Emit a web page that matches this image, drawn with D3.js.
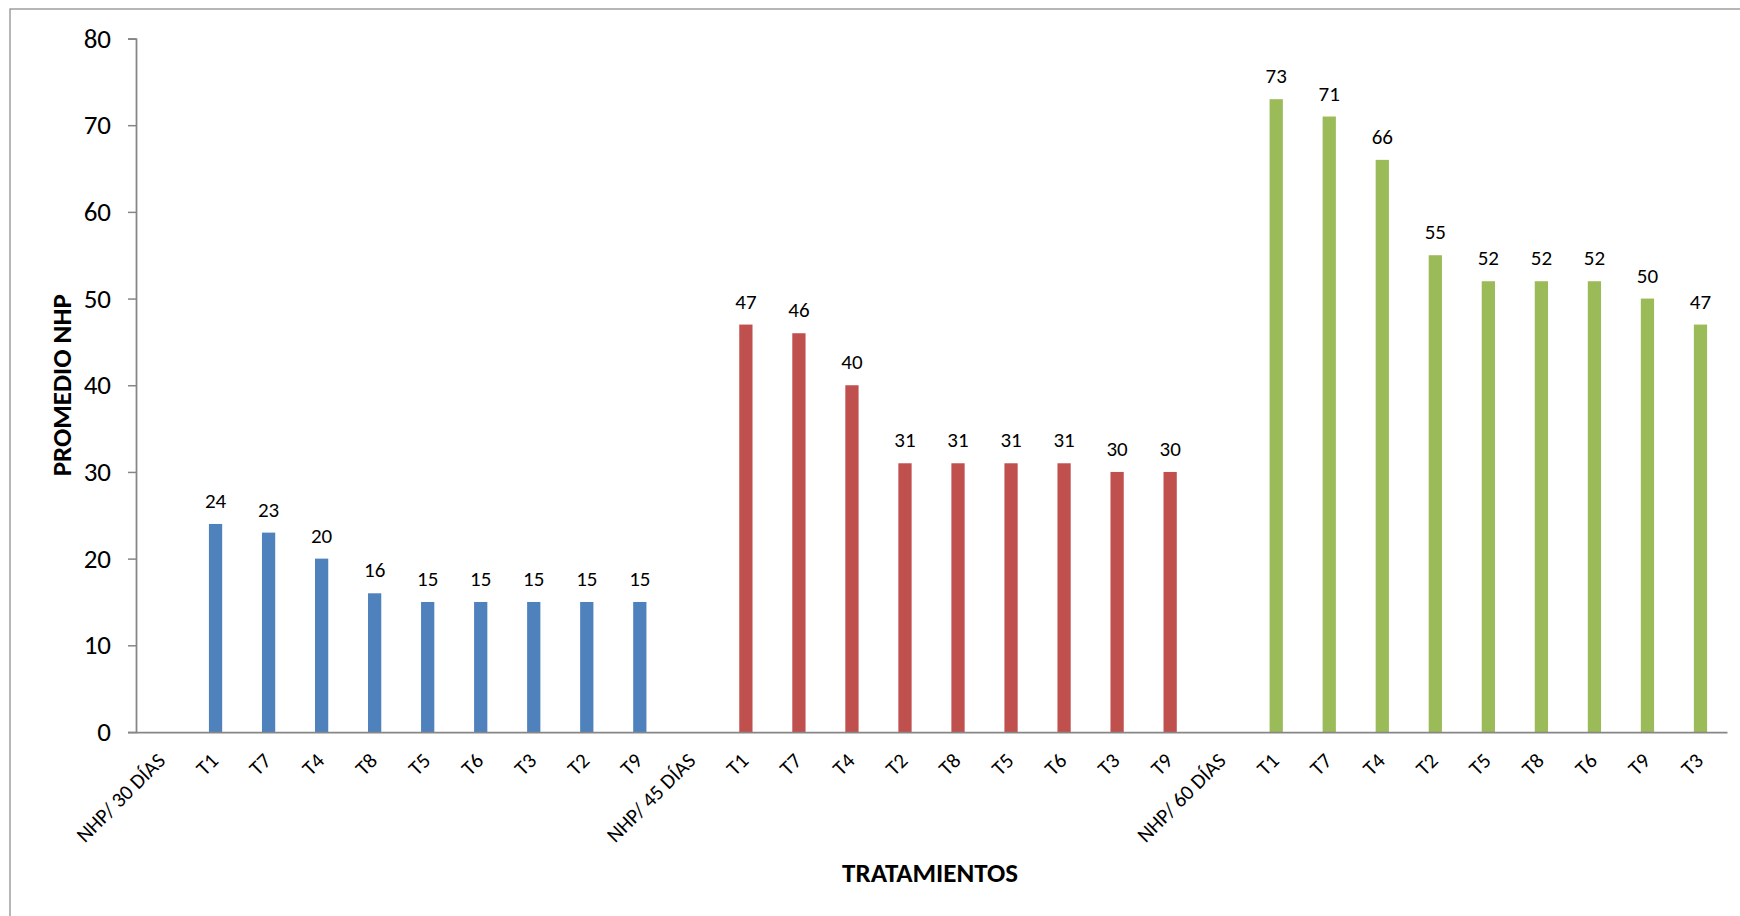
<!DOCTYPE html>
<html>
<head>
<meta charset="utf-8">
<script src="https://cdn.jsdelivr.net/npm/d3@7"></script>
<style>
  html, body { margin: 0; padding: 0; background: #fff; }
  svg { display: block; font-family: Calibri, Carlito, Lato, "Noto Sans", sans-serif; }
</style>
</head>
<body>
<svg id="chart" width="1740" height="916"></svg>
<script>
// Treatment order within each sampling date (sorted by mean NHP)
const groups = ["NHP/ 30 DÍAS", "NHP/ 45 DÍAS", "NHP/ 60 DÍAS"];
const treat30 = ["T1", "T7", "T4", "T8", "T5", "T6", "T3", "T2", "T9"];
const treat45 = ["T1", "T7", "T4", "T2", "T8", "T5", "T6", "T3", "T9"];
const treat60 = ["T1", "T7", "T4", "T2", "T5", "T8", "T6", "T9", "T3"];

// Mean NHP per treatment
const values30 = [24, 23, 20, 16, 15, 15, 15, 15, 15];
const values45 = [47, 46, 40, 31, 31, 31, 31, 30, 30];
const values60 = [73, 71, 66, 55, 52, 52, 52, 50, 47];

const yTicks = [0, 10, 20, 30, 40, 50, 60, 70, 80];
const groupColors = ["#4F81BD", "#C0504D", "#9BBB59"];

// Flat category list: each date header followed by its treatments
const rows = [];
[[treat30, values30], [treat45, values45], [treat60, values60]].forEach(([names, vals], g) => {
  rows.push({ key: "g" + g, label: groups[g], value: null, group: g });
  names.forEach((n, i) => rows.push({ key: "g" + g + "-" + i, label: n, value: vals[i], group: g }));
});

const svg = d3.select("#chart");
const plotLeft = 136, plotRight = 1727, plotTop = 38.5, plotBottom = 732;

// Outer chart frame
svg.append("rect")
  .attr("x", 10).attr("y", 9)
  .attr("width", 1800).attr("height", 1000)
  .attr("fill", "none").attr("stroke", "#868686").attr("stroke-width", 1.2);

const x = d3.scaleBand().domain(rows.map(d => d.key)).range([plotLeft, plotRight]);
const y = d3.scaleLinear().domain([0, 80]).range([plotBottom, plotTop]);

// Bars
const bw = x.bandwidth() * 0.25;
svg.append("g").selectAll("rect")
  .data(rows.filter(d => d.value !== null))
  .join("rect")
  .attr("x", d => x(d.key) + x.bandwidth() / 2 - bw / 2)
  .attr("y", d => y(d.value))
  .attr("width", bw)
  .attr("height", d => y(0) - y(d.value))
  .attr("fill", d => groupColors[d.group]);

// Value labels
svg.append("g").selectAll("text")
  .data(rows.filter(d => d.value !== null))
  .join("text")
  .attr("x", d => x(d.key) + x.bandwidth() / 2)
  .attr("y", d => y(d.value) - 16)
  .attr("text-anchor", "middle")
  .attr("font-size", 21)
  .attr("fill", "#000")
  .text(d => d.value);

// Y axis
const yAxis = svg.append("g")
  .attr("transform", `translate(${plotLeft},0)`)
  .call(d3.axisLeft(y).tickValues(yTicks).tickSize(8).tickPadding(17));
yAxis.select(".domain").attr("stroke", "#868686").attr("stroke-width", 1.75);
yAxis.selectAll(".tick line").attr("stroke", "#868686").attr("stroke-width", 1.5);
yAxis.selectAll(".tick text").attr("font-size", 27).attr("fill", "#000")
  .attr("font-family", "Calibri, Carlito, Lato, sans-serif");

// X axis (no tick marks, rotated labels)
const xAxis = svg.append("g")
  .attr("transform", `translate(0,${plotBottom})`)
  .call(d3.axisBottom(x).tickSize(0).tickFormat(k => rows.find(r => r.key === k).label));
xAxis.select(".domain").attr("stroke", "#868686").attr("stroke-width", 1.75);
xAxis.selectAll(".tick text")
  .attr("font-size", 21).attr("fill", "#000")
  .attr("font-family", "Calibri, Carlito, Lato, sans-serif")
  .attr("text-anchor", "end")
  .attr("transform", "translate(4,30) rotate(-45)")
  .attr("x", 0).attr("y", 0).attr("dy", 0);

// Axis titles
svg.append("text")
  .attr("transform", `translate(71,${(plotTop + plotBottom) / 2}) rotate(-90)`)
  .attr("text-anchor", "middle")
  .attr("font-size", 27).attr("font-weight", "bold")
  .text("PROMEDIO NHP");

svg.append("text")
  .attr("x", 930).attr("y", 882)
  .attr("text-anchor", "middle")
  .attr("font-size", 27).attr("font-weight", "bold")
  .text("TRATAMIENTOS");
</script>
</body>
</html>
